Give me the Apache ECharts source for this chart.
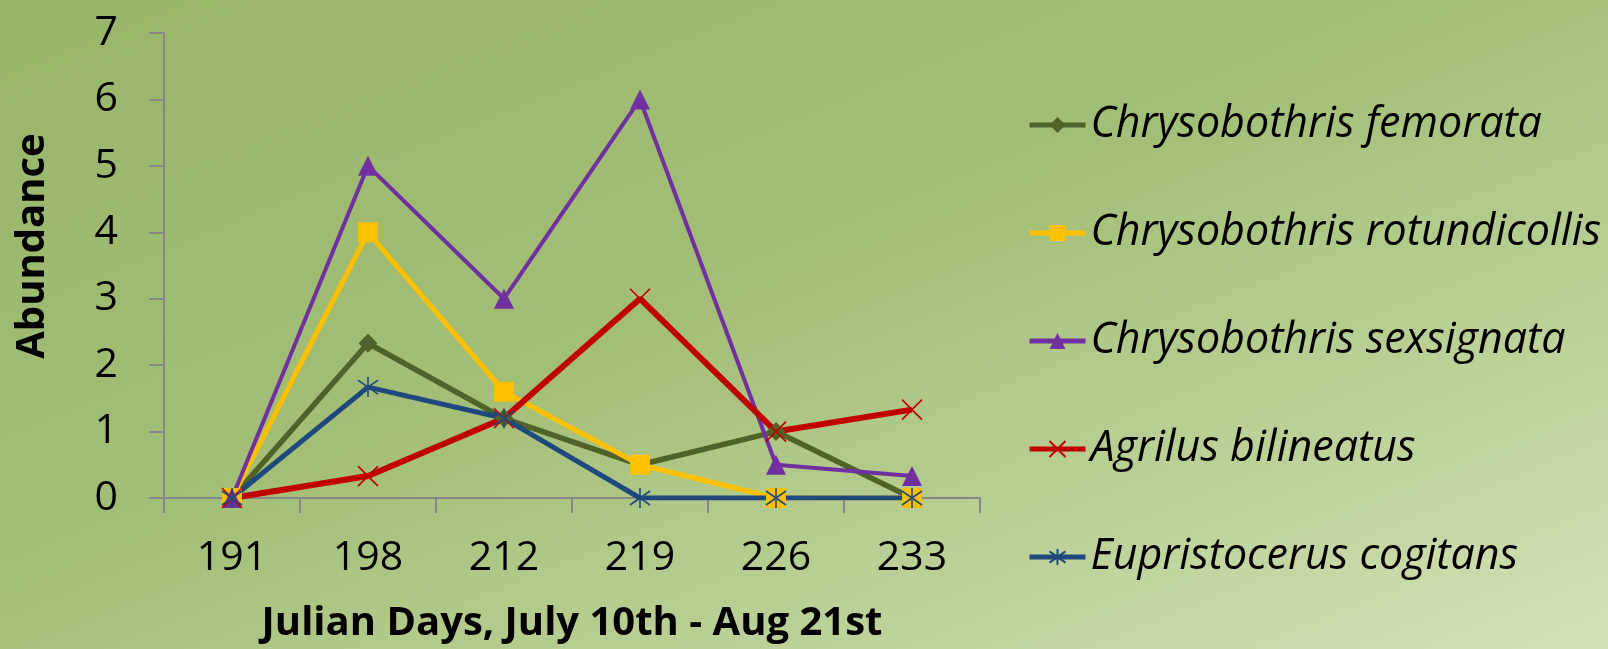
<!DOCTYPE html>
<html>
<head>
<meta charset="utf-8">
<script src="https://cdn.jsdelivr.net/npm/echarts@6/dist/echarts.min.js"></script>
<style>
html,body{margin:0;padding:0;}
#chart{width:1608px;height:649px;background:linear-gradient(to bottom right,#99b56a 0%,#a3be76 45%,#d2e2b6 100%);}
</style>
</head>
<body>
<div id="chart"></div>
<script>
const categories = ['191','198','212','219','226','233'];
const seriesNames = ['Chrysobothris femorata','Chrysobothris rotundicollis','Chrysobothris sexsignata','Agrilus bilineatus','Eupristocerus cogitans'];
const femorata = [0, 2.33, 1.2, 0.5, 1, 0];
const rotundicollis = [0, 4, 1.6, 0.5, 0, 0];
const sexsignata = [0, 5, 3, 6, 0.5, 0.33];
const bilineatus = [0, 0.33, 1.2, 3, 1, 1.33];
const cogitans = [0, 1.67, 1.2, 0, 0, 0];
const yTicks = [0,1,2,3,4,5,6,7];
const xTitle = 'Julian Days, July 10th - Aug 21st';
const yTitle = 'Abundance';

const FONT = 'Open Sans';
const chart = echarts.init(document.getElementById('chart'), null, {renderer:'canvas'});

function lineSeries(name, data, color, symbol, size, width, strokeOnly) {
  return {
    name: name, type: 'line', data: data,
    symbol: symbol, symbolSize: size, symbolKeepAspect: true,
    showAllSymbol: true,
    lineStyle: {color: color, width: width},
    itemStyle: strokeOnly ? {color: 'rgba(0,0,0,0)', borderColor: color, borderWidth: 1.6} : {color: color, borderWidth: 0},
    emphasis: {disabled: true},
    animation: false
  };
}

chart.setOption({
  backgroundColor: 'transparent',
  animation: false,
  grid: {left: 164, right: 628, top: 33, bottom: 150, containLabel: false},
  legend: {
    orient: 'vertical', left: 1027, top: 102, padding: 0,
    itemWidth: 56, itemHeight: 20, itemGap: 62,
    lineStyle: {width: 5},
    textStyle: {fontFamily: FONT, fontStyle: 'italic', fontSize: 43, color: '#000', lineHeight: 46},
    data: seriesNames
  },
  graphic: [{
    type: 'text', x: 33, y: 246, rotation: Math.PI / 2,
    style: {text: yTitle, fontFamily: FONT, fontWeight: 'bold', fontSize: 40, fill: '#000', align: 'center', verticalAlign: 'middle'}
  }],
  xAxis: {
    type: 'category', data: categories, boundaryGap: true,
    axisLine: {lineStyle: {color: '#878787', width: 2}},
    axisTick: {show: true, length: 15, inside: false, lineStyle: {color: '#878787', width: 2}},
    axisLabel: {fontFamily: FONT, fontSize: 41, color: '#000', margin: 40},
    name: xTitle, nameLocation: 'middle', nameGap: 106,
    nameTextStyle: {fontFamily: FONT, fontWeight: 'bold', fontSize: 40, color: '#000'}
  },
  yAxis: {
    type: 'value', min: 0, max: 7, interval: 1,
    axisLine: {show: true, lineStyle: {color: '#878787', width: 2}},
    axisTick: {show: true, length: 15, lineStyle: {color: '#878787', width: 2}},
    splitLine: {show: false},
    axisLabel: {fontFamily: FONT, fontSize: 41, color: '#000', margin: 46,
      formatter: function(v){ return yTicks.indexOf(v) >= 0 ? String(v) : ''; }}
  },
  series: [
    lineSeries(seriesNames[0], femorata, '#4f6228', 'diamond', 19, 5.5, false),
    lineSeries(seriesNames[1], rotundicollis, '#ffc000', 'rect', 20, 5, false),
    lineSeries(seriesNames[2], sexsignata, '#7030a0', 'triangle', 20, 4, false),
    lineSeries(seriesNames[3], bilineatus, '#c00000', 'path://M0,0L10,10M10,0L0,10', 20, 6, true),
    lineSeries(seriesNames[4], cogitans, '#1f497d', 'path://M5,0L5,10M0,1.5L10,8.5M10,1.5L0,8.5', 20, 5, true)
  ]
});
</script>
</body>
</html>
